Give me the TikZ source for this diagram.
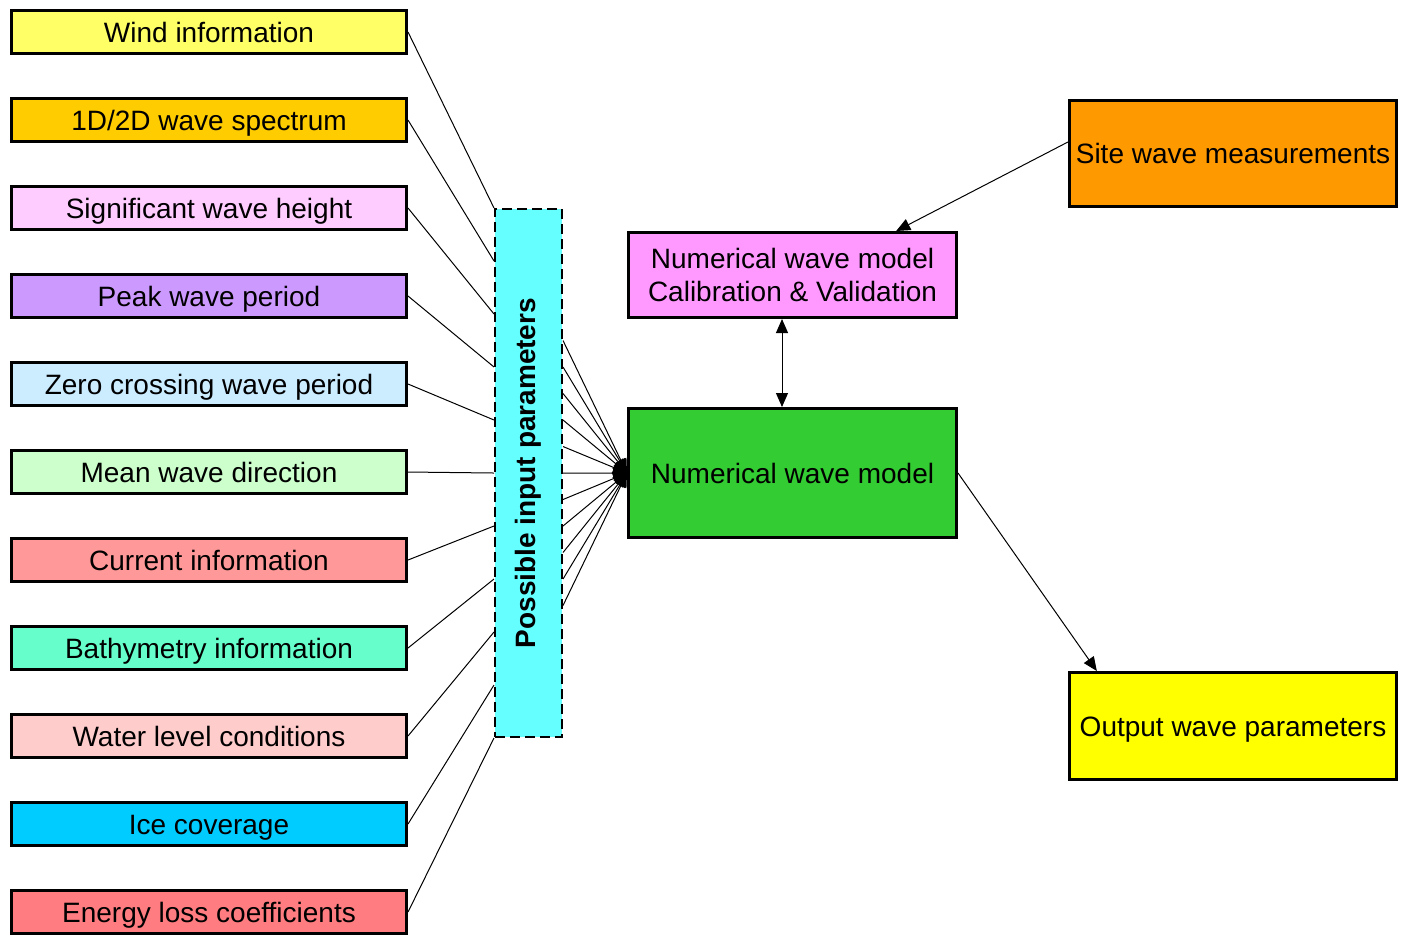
\documentclass[tikz,border=0pt]{standalone}
\usepackage{fontspec}
\setmainfont{Liberation Sans}
\usetikzlibrary{arrows.meta,calc}

\definecolor{windclr}{HTML}{FFFF66}
\definecolor{specclr}{HTML}{FFCC00}
\definecolor{hsclr}{HTML}{FFCCFF}
\definecolor{tpclr}{HTML}{CC99FF}
\definecolor{tzclr}{HTML}{CCECFF}
\definecolor{dirclr}{HTML}{CCFFCC}
\definecolor{curclr}{HTML}{FF9999}
\definecolor{bathclr}{HTML}{66FFCC}
\definecolor{wlclr}{HTML}{FFCCCC}
\definecolor{iceclr}{HTML}{00CCFF}
\definecolor{lossclr}{HTML}{FF7C80}
\definecolor{pinclr}{HTML}{66FFFF}
\definecolor{calibclr}{HTML}{FF99FF}
\definecolor{modelclr}{HTML}{33CC33}
\definecolor{siteclr}{HTML}{FF9900}
\definecolor{outclr}{HTML}{FFFF00}

\begin{document}
\begin{tikzpicture}[x=0.5pt,y=-0.5pt,every node/.style={font=\fontsize{14pt}{16.5pt}\selectfont}]
  \tikzset{
    oneline/.style={text height=10pt,text depth=0pt},
    inbox/.style={draw,oneline,line width=1.5pt,minimum width=197.5pt,minimum height=21.5pt,inner sep=0pt},
    bigbox/.style={draw,line width=1.5pt,minimum width=164pt,inner sep=0pt,align=center},
    thinline/.style={line width=0.5pt},
    tip/.style={thinline,-{Triangle[length=7pt,width=6pt]}}
  }
  \useasboundingbox (0,0) rectangle (1402,934);
  % possible inputs
  \node[draw,line width=1pt,dash pattern=on 5pt off 2.5pt,fill=pinclr,minimum width=33.5pt,minimum height=264pt,inner sep=0pt] (pin) at (528.5,473) {};
  \node[rotate=90,font=\fontsize{14pt}{16.5pt}\selectfont\bfseries] (pinlabel) at (pin.center) {Possible input parameters};
  \foreach \i in {0,...,10} {
    \coordinate (pl\i) at ($(pin.north west)!\i/10!(pin.south west)$);
    \coordinate (pr\i) at ($(pin.north east)!0.25+\i*0.05!(pin.south east)$);
  }
  \foreach \name/\clr/\txt [count=\i from 0] in {wind/windclr/Wind information,spec/specclr/{1D/2D wave spectrum},hs/hsclr/Significant wave height,tp/tpclr/Peak wave period,tz/tzclr/Zero crossing wave period,dir/dirclr/Mean wave direction,cur/curclr/Current information,bath/bathclr/Bathymetry information,wl/wlclr/Water level conditions,ice/iceclr/Ice coverage,loss/lossclr/Energy loss coefficients} {
    \node[inbox,fill=\clr] (\name) at (209,{32+88*\i}) {\txt};
    \draw[thinline] (\name.east) -- (pl\i);
  }
  % model side
  \node[bigbox,fill=calibclr,minimum height=42.5pt] (calib) at (792.5,275) {Numerical wave model\\Calibration \& Validation};
  \node[bigbox,oneline,fill=modelclr,minimum height=64.5pt] (model) at (792.5,473) {Numerical wave model};
  \node[bigbox,oneline,fill=siteclr,minimum width=163.5pt,minimum height=53pt] (site) at (1233,153.5) {Site wave measurements};
  \node[bigbox,oneline,fill=outclr,minimum width=163.5pt,minimum height=53.5pt] (output) at (1233,726) {Output wave parameters};
  \foreach \i in {0,...,10}
    \draw[tip] (pr\i) -- (model.west);
  \draw[tip] (site.176) -- (calib.23);
  \draw[thinline,{Triangle[length=7pt,width=6pt]}-{Triangle[length=7pt,width=6pt]}] ([xshift=-5.25pt]calib.south) -- ([xshift=-5.25pt]model.north);
  \draw[tip] (model.east) -- (output.158);
\end{tikzpicture}
\end{document}
